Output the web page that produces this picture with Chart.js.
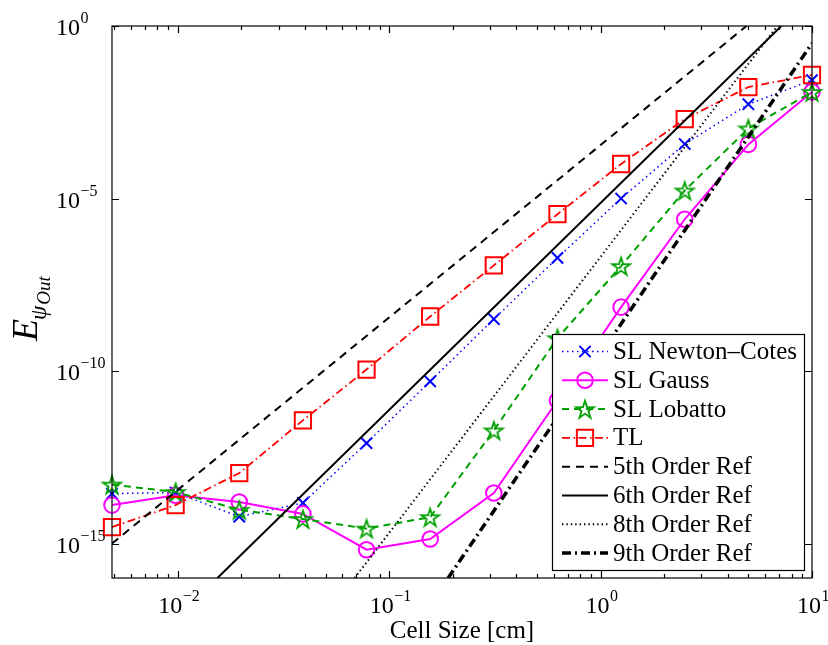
<!DOCTYPE html>
<html>
  <head>
    <title>Convergence</title>
    <script src="https://cdn.jsdelivr.net/npm/chart.js"></script>
    <style>
      body {
        margin: 0;
        background: #fff;
      }
      canvas {
        display: block;
      }
    </style>
  </head>
  <body>
    <canvas id="graph" width="828" height="645"></canvas>
    <script>
      // cell sizes [cm]
      const cellSize = [
        0.0048828125, 0.009765625, 0.01953125, 0.0390625, 0.078125, 0.15625,
        0.3125, 0.625, 1.25, 2.5, 5, 10,
      ];

      const errNewtonCotes = [
        2.8e-14, 3.0e-14, 6.0e-15, 1.5e-14, 8.1e-13, 5.0e-11, 3.2e-9, 1.9e-7,
        1.0e-5, 3.8e-4, 5.4e-3, 2.7e-2,
      ];
      const errGauss = [
        1.3e-14, 2.5e-14, 1.6e-14, 7.2e-15, 6.6e-16, 1.35e-15, 2.9e-14,
        1.4e-11, 7.1e-9, 2.5e-6, 3.7e-4, 1.23e-2,
      ];
      const errLobatto = [
        5.1e-14, 3.1e-14, 9.5e-15, 5.1e-15, 2.7e-15, 5.8e-15, 1.9e-12, 8.9e-10,
        1.1e-7, 1.7e-5, 1.07e-3, 1.23e-2,
      ];
      const errTL = [
        3.0e-15, 1.3e-14, 1.1e-13, 3.7e-12, 1.1e-10, 3.8e-9, 1.15e-7, 3.5e-6,
        1.0e-4, 2.0e-3, 1.7e-2, 3.8e-2,
      ];

      // reference slopes, [x, y] where each line enters and leaves the axes
      const ref5th = [[0.0048828125, 1.0e-15], [4.9, 1]];
      const ref6th = [[0.0154, 1e-16], [7.16, 1]];
      const ref8th = [[0.0686, 1e-16], [6.86, 1]];
      const ref9th = [[0.19, 1e-16], [10, 0.316]];

      // tick exponents
      const xTickExp = [-2, -1, 0, 1];
      const yTickExp = [0, -5, -10, -15];

      const SERIF = "'Liberation Serif', 'Times New Roman', serif";

      function pentagram(color) {
        const c = document.createElement("canvas");
        c.width = 24;
        c.height = 24;
        const g = c.getContext("2d");
        g.beginPath();
        for (let i = 0; i < 10; i++) {
          const r = i % 2 ? 3.6 : 9.4;
          const a = -Math.PI / 2 + (i * Math.PI) / 5;
          const px = 12 + r * Math.cos(a);
          const py = 13 + r * Math.sin(a);
          if (i === 0) g.moveTo(px, py);
          else g.lineTo(px, py);
        }
        g.closePath();
        g.strokeStyle = color;
        g.lineWidth = 1.8;
        g.lineJoin = "miter";
        g.stroke();
        return c;
      }

      const green = "#00a000";
      const starImg = pentagram(green);

      function pairs(ys) {
        return cellSize.map((x, i) => ({ x: x, y: ys[i] }));
      }
      function refPoints(r) {
        return r.map((p) => ({ x: p[0], y: p[1] }));
      }

      const datasets = [
        {
          label: "SL Newton\u2013Cotes",
          data: pairs(errNewtonCotes),
          borderColor: "#0000ff",
          borderWidth: 1.5,
          borderDash: [1.5, 3.5],
          pointStyle: "crossRot",
          pointRadius: 8,
          pointBorderWidth: 2,
          pointBorderColor: "#0000ff",
          pointBackgroundColor: "rgba(0,0,0,0)",
          clip: false,
        },
        {
          label: "SL Gauss",
          data: pairs(errGauss),
          borderColor: "#ff00ff",
          borderWidth: 2,
          pointStyle: "circle",
          pointRadius: 7.8,
          pointBorderWidth: 2,
          pointBorderColor: "#ff00ff",
          pointBackgroundColor: "rgba(0,0,0,0)",
          clip: false,
        },
        {
          label: "SL Lobatto",
          data: pairs(errLobatto),
          borderColor: green,
          borderWidth: 2,
          borderDash: [7, 5],
          pointStyle: starImg,
          pointRadius: 9,
          pointBorderColor: green,
          clip: false,
        },
        {
          label: "TL",
          data: pairs(errTL),
          borderColor: "#ff0000",
          borderWidth: 1.8,
          borderDash: [8, 3.5, 1.5, 3.5],
          pointStyle: "rect",
          pointRadius: 11.5,
          pointBorderWidth: 2,
          pointBorderColor: "#ff0000",
          pointBackgroundColor: "rgba(0,0,0,0)",
          clip: false,
        },
        {
          label: "5th Order Ref",
          data: refPoints(ref5th),
          borderColor: "#000",
          borderWidth: 2,
          borderDash: [8, 6],
          pointRadius: 0,
        },
        {
          label: "6th Order Ref",
          data: refPoints(ref6th),
          borderColor: "#000",
          borderWidth: 2,
          pointRadius: 0,
        },
        {
          label: "8th Order Ref",
          data: refPoints(ref8th),
          borderColor: "#000",
          borderWidth: 2,
          borderDash: [1.4, 3],
          pointRadius: 0,
        },
        {
          label: "9th Order Ref",
          data: refPoints(ref9th),
          borderColor: "#000",
          borderWidth: 3.5,
          borderDash: [9, 4, 2, 4],
          pointRadius: 0,
        },
      ];
      // later series on top
      datasets.forEach((d, i) => {
        d.order = datasets.length - i;
        d.fill = false;
        d.tension = 0;
        d.pointHoverRadius = d.pointRadius;
      });

      function drawLabel10(ctx, exp, x, y, align) {
        // "10" with a raised exponent; y is the baseline of "10"
        const base = "10";
        const sup = exp < 0 ? "\u2212" + -exp : String(exp);
        ctx.font = "24px " + SERIF;
        const wb = ctx.measureText(base).width;
        ctx.font = "16px " + SERIF;
        const ws = ctx.measureText(sup).width;
        let x0;
        if (align === "center") x0 = x - (wb + ws) / 2;
        else x0 = x - wb; // base right-aligned at x
        ctx.textAlign = "left";
        ctx.textBaseline = "alphabetic";
        ctx.font = "24px " + SERIF;
        ctx.fillText(base, x0, y);
        ctx.font = "16px " + SERIF;
        ctx.fillText(sup, x0 + wb + 0.5, y - 12);
      }

      const axesFrame = {
        id: "axesFrame",
        afterDatasetsDraw(chart) {
          const { ctx, chartArea: a, scales } = chart;
          const xs = scales.x;
          const ys = scales.y;
          ctx.save();
          ctx.strokeStyle = "#000";
          ctx.lineWidth = 1.2;
          ctx.setLineDash([]);
          ctx.strokeRect(a.left, a.top, a.right - a.left, a.bottom - a.top);

          // x ticks, major at decades, minor in between, on bottom and top
          ctx.beginPath();
          for (let d = -3; d <= 1; d++) {
            for (let m = 1; m <= 9; m++) {
              const v = m * Math.pow(10, d);
              if (v < xs.min * 0.999 || v > xs.max * 1.001) continue;
              const px = Math.round(xs.getPixelForValue(v)) + 0.5;
              const len = m === 1 ? 7 : 4;
              ctx.moveTo(px, a.bottom);
              ctx.lineTo(px, a.bottom - len);
              ctx.moveTo(px, a.top);
              ctx.lineTo(px, a.top + len);
            }
          }
          // y ticks, left and right
          yTickExp.forEach((e) => {
            const py = Math.round(ys.getPixelForValue(Math.pow(10, e))) + 0.5;
            ctx.moveTo(a.left, py);
            ctx.lineTo(a.left + 7, py);
            ctx.moveTo(a.right, py);
            ctx.lineTo(a.right - 7, py);
          });
          ctx.stroke();

          ctx.fillStyle = "#000";
          xTickExp.forEach((e) => {
            const px = xs.getPixelForValue(Math.pow(10, e));
            drawLabel10(ctx, e, px + 1, a.bottom + 35, "center");
          });
          yTickExp.forEach((e) => {
            const py = ys.getPixelForValue(Math.pow(10, e));
            drawLabel10(ctx, e, 80, py + 9, "right");
          });

          // axis titles
          ctx.font = "25px " + SERIF;
          ctx.textAlign = "center";
          ctx.textBaseline = "alphabetic";
          ctx.fillText("Cell Size [cm]", (a.left + a.right) / 2, 638);

          ctx.save();
          ctx.translate(37, 341);
          ctx.rotate(-Math.PI / 2);
          ctx.textAlign = "left";
          ctx.font = "italic 36px " + SERIF;
          ctx.fillText("E", 0, 0);
          let w = ctx.measureText("E").width;
          ctx.font = "italic 23px " + SERIF;
          ctx.fillText("\u03c8", w - 1, 9);
          w += ctx.measureText("\u03c8").width - 1;
          ctx.font = "italic 19px " + SERIF;
          ctx.fillText("Out", w + 1, 13);
          ctx.restore();

          ctx.restore();
        },
        afterDraw(chart) {
          // legend box in the lower right corner
          const { ctx, chartArea: a } = chart;
          const bw = 252;
          const bh = 236;
          const bx = a.right - 8 - bw;
          const by = a.bottom - 8 - bh;
          ctx.save();
          ctx.fillStyle = "#fff";
          ctx.fillRect(bx, by, bw, bh);
          ctx.strokeStyle = "#000";
          ctx.lineWidth = 1.2;
          ctx.setLineDash([]);
          ctx.strokeRect(bx + 0.5, by + 0.5, bw, bh);

          chart.data.datasets.forEach((ds, i) => {
            const cy = by + 17.5 + i * 28.8;
            const lx0 = bx + 10;
            const lx1 = bx + 56;
            ctx.strokeStyle = ds.borderColor;
            ctx.lineWidth = ds.borderWidth;
            ctx.setLineDash(ds.borderDash || []);
            ctx.beginPath();
            ctx.moveTo(lx0, cy);
            ctx.lineTo(lx1, cy);
            ctx.stroke();
            ctx.setLineDash([]);
            if (ds.pointRadius > 0) {
              ctx.strokeStyle = ds.pointBorderColor;
              ctx.fillStyle = "rgba(0,0,0,0)";
              ctx.lineWidth = ds.pointBorderWidth || 2;
              Chart.helpers.drawPoint(
                ctx,
                {
                  pointStyle: ds.pointStyle,
                  radius: ds.pointRadius,
                  borderWidth: ds.pointBorderWidth || 2,
                  rotation: 0,
                },
                (lx0 + lx1) / 2,
                cy
              );
            }
            ctx.fillStyle = "#000";
            ctx.font = "25px " + SERIF;
            ctx.textAlign = "left";
            ctx.textBaseline = "middle";
            ctx.fillText(ds.label, bx + 61, cy + 1);
          });
          ctx.restore();
        },
      };

      new Chart(document.getElementById("graph").getContext("2d"), {
        type: "line",
        data: { datasets: datasets },
        options: {
          responsive: false,
          animation: false,
          devicePixelRatio: 1,
          layout: { padding: { left: 112, top: 26, right: 16, bottom: 67 } },
          scales: {
            x: {
              type: "logarithmic",
              min: cellSize[0],
              max: 10,
              display: false,
            },
            y: {
              type: "logarithmic",
              min: 1e-16,
              max: 1,
              display: false,
            },
          },
          plugins: {
            legend: { display: false },
            tooltip: { enabled: false },
          },
          events: [],
        },
        plugins: [axesFrame],
      });
    </script>
  </body>
</html>
